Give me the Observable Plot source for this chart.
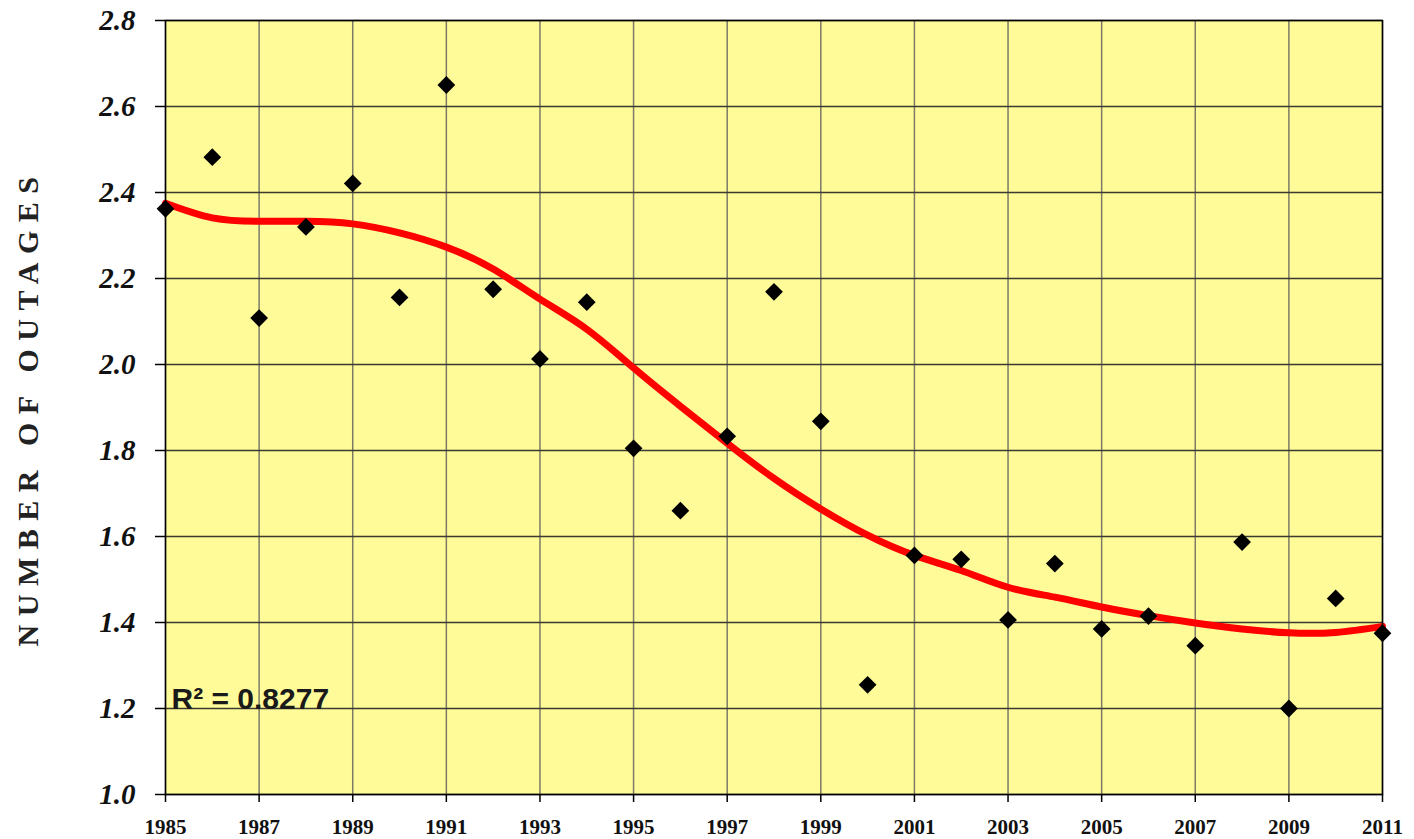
<!DOCTYPE html>
<html>
<head>
<meta charset="utf-8">
<script src="https://cdn.jsdelivr.net/npm/d3@7"></script>
<script src="https://cdn.jsdelivr.net/npm/@observablehq/plot@0.6"></script>
<style>
  html, body { margin: 0; padding: 0; background: #ffffff; }
  #chart svg { display: block; }
</style>
</head>
<body>
<div id="chart"></div>
<script>
const years = [1985, 1986, 1987, 1988, 1989, 1990, 1991, 1992, 1993, 1994, 1995, 1996, 1997, 1998,
  1999, 2000, 2001, 2002, 2003, 2004, 2005, 2006, 2007, 2008, 2009, 2010, 2011];
const outages = [2.362, 2.482, 2.108, 2.32, 2.421, 2.156, 2.65, 2.175, 2.013, 2.145, 1.805, 1.66, 1.833, 2.169,
  1.868, 1.255, 1.556, 1.547, 1.406, 1.537, 1.385, 1.415, 1.346, 1.587, 1.2, 1.456, 1.375];
const trend = [2.375, 2.341, 2.333, 2.333, 2.327, 2.306, 2.273, 2.222, 2.152, 2.082, 1.992, 1.903, 1.817, 1.735,
  1.664, 1.603, 1.556, 1.521, 1.482, 1.459, 1.436, 1.416, 1.399, 1.385, 1.376, 1.377, 1.391];
const xTicks = [1985, 1987, 1989, 1991, 1993, 1995, 1997, 1999, 2001, 2003, 2005, 2007, 2009, 2011];
const yTicks = [1.0, 1.2, 1.4, 1.6, 1.8, 2.0, 2.2, 2.4, 2.6, 2.8];
const yTitle = "NUMBER OF OUTAGES";
const rSquaredLabel = "R\u00B2 = 0.8277";

const points = years.map((year, i) => ({year, value: outages[i]}));
const trendPts = years.map((year, i) => ({year, value: trend[i]}));

const chart = Plot.plot({
  width: 1414,
  height: 839,
  marginLeft: 165,
  marginRight: 32,
  marginTop: 20,
  marginBottom: 45,
  style: {background: "#ffffff", overflow: "visible"},
  x: {domain: [1985, 2011]},
  y: {domain: [1.0, 2.8]},
  marks: [
    Plot.frame({fill: "#FFFB99", stroke: null}),
    Plot.gridX(xTicks, {stroke: "#7d7a68", strokeOpacity: 1, strokeWidth: 1.5}),
    Plot.gridY(yTicks, {stroke: "#3a3a30", strokeOpacity: 1, strokeWidth: 1.5}),
    Plot.axisX(xTicks, {
      tickSize: 8, tickPadding: 17, tickFormat: d => String(d), label: null,
      stroke: "#000", strokeWidth: 1.5,
      fontFamily: "Liberation Serif", fontSize: 21, fontWeight: "bold", fill: "#111"
    }),
    Plot.axisY(yTicks, {
      tickSize: 10, tickPadding: 20, tickFormat: d => d.toFixed(1), label: null,
      stroke: "#000", strokeWidth: 1.5,
      fontFamily: "Liberation Serif", fontSize: 29, fontWeight: "bold", fontStyle: "italic", fill: "#111"
    }),
    Plot.line(trendPts, {x: "year", y: "value", stroke: "#ff0000", strokeWidth: 7, curve: "natural"}),
    Plot.dot(points, {x: "year", y: "value", symbol: "diamond2", r: 8, fill: "#000", stroke: null}),
    Plot.text([rSquaredLabel], {
      frameAnchor: "bottom-left", dx: 6, dy: -86, textAnchor: "start", lineAnchor: "bottom",
      fontFamily: "Liberation Sans", fontSize: 30, fontWeight: "bold", fill: "#1a1a1a"
    }),
    Plot.text([yTitle], {
      frameAnchor: "left", dx: -137, rotate: -90, textAnchor: "middle",
      fontFamily: "Liberation Serif", fontSize: 30, fontWeight: "bold", fill: "#222"
    }),
    Plot.frame({stroke: "#000", strokeWidth: 1.5})
  ]
});

document.getElementById("chart").appendChild(chart);
chart.querySelectorAll("text").forEach(t => {
  if (t.textContent === yTitle) t.setAttribute("letter-spacing", "8.5");
});
</script>
</body>
</html>
